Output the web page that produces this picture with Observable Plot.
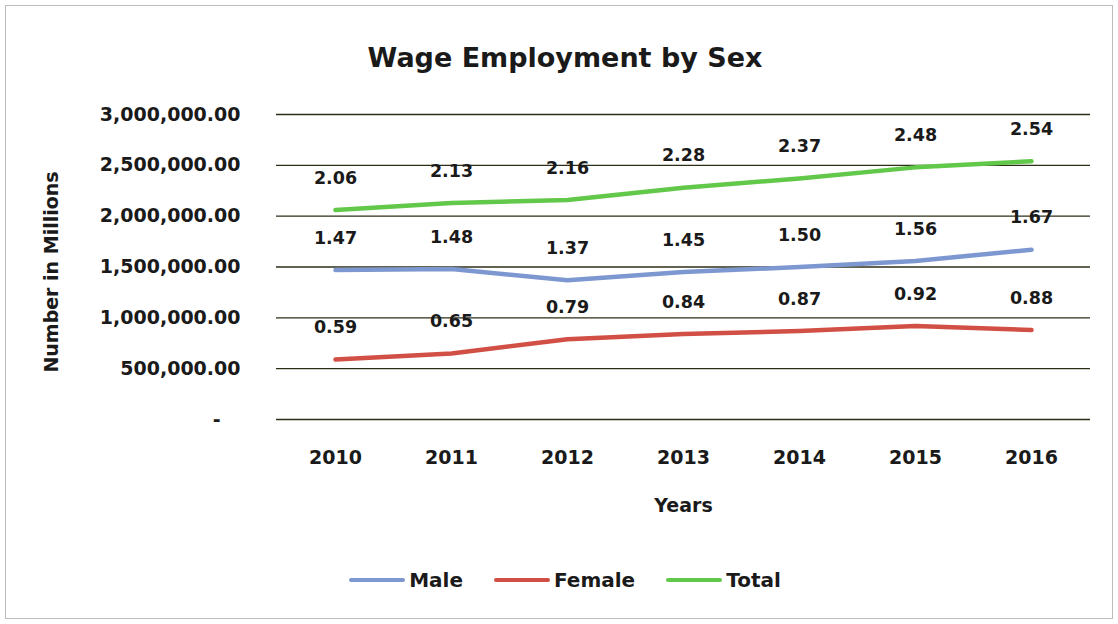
<!DOCTYPE html>
<html>
<head>
<meta charset="utf-8">
<script src="https://cdn.jsdelivr.net/npm/d3@7"></script>
<script src="https://cdn.jsdelivr.net/npm/@observablehq/plot@0.6"></script>
<style>
  html, body { margin: 0; padding: 0; background: #fff; }
  body { width: 1118px; height: 624px; position: relative; overflow: hidden; font-family: "DejaVu Sans", sans-serif; }
  #frame { position: absolute; left: 5px; top: 5px; width: 1108px; height: 614px; border: 1px solid #bdbdbd; box-sizing: border-box; }
  #title { position: absolute; left: 12px; width: 1106px; top: 42px; text-align: center; font-weight: bold; font-size: 27px; color: #1a1a1a; line-height: 31px; }
  #chart { position: absolute; left: 0; top: 95px; }
  #legend { position: absolute; top: 568px; left: 0; width: 1118px; display: flex; justify-content: center; gap: 31px; font-weight: bold; font-size: 20px; color: #1a1a1a; padding-left: 12px; box-sizing: border-box; line-height: 24px; }
  .item { display: flex; align-items: center; }
  .swatch { width: 56px; height: 4px; border-radius: 2px; margin-right: 4px; }
</style>
</head>
<body>
<div id="frame"></div>
<div id="title">Wage Employment by Sex</div>
<div id="chart"></div>
<div id="legend"></div>
<script>
const years = ["2010", "2011", "2012", "2013", "2014", "2015", "2016"];
const male = [1.47, 1.48, 1.37, 1.45, 1.50, 1.56, 1.67];
const female = [0.59, 0.65, 0.79, 0.84, 0.87, 0.92, 0.88];
const total = [2.06, 2.13, 2.16, 2.28, 2.37, 2.48, 2.54];
const seriesNames = ["Male", "Female", "Total"];
const seriesColors = ["#7d98d0", "#d24f45", "#62c84a"];
const yTicks = [0, 500000, 1000000, 1500000, 2000000, 2500000, 3000000];

const valuesBySeries = [male, female, total];
const rows = [];
seriesNames.forEach((s, si) => {
  years.forEach((yr, i) => rows.push({series: s, year: yr, value: valuesBySeries[si][i] * 1e6, label: valuesBySeries[si][i].toFixed(2)}));
});

const fmt = d3.format(",.2f");
const chart = Plot.plot({
  width: 1118,
  height: 440,
  marginLeft: 276,
  marginRight: 28,
  marginTop: 19,
  marginBottom: 116,
  style: {fontFamily: "'DejaVu Sans', sans-serif", background: "transparent", color: "#1a1a1a"},
  x: {type: "point", domain: years, padding: 0.5},
  y: {domain: [0, 3000000]},
  color: {domain: seriesNames, range: seriesColors},
  marks: [
    Plot.ruleY(yTicks, {stroke: "#2e2e18", strokeWidth: 1.3}),
    Plot.axisY({ticks: yTicks, tickSize: 0, tickPadding: 36, fontSize: 19, fontWeight: "bold",
      tickFormat: d => d === 0 ? "-\u00a0\u00a0\u00a0" : fmt(d), label: null}),
    Plot.axisX({tickSize: 0, tickPadding: 31, fontSize: 19, fontWeight: "bold", label: null}),
    Plot.text(["Years"], {frameAnchor: "bottom", dy: 92, fontSize: 19, fontWeight: "bold", text: d => d}),
    Plot.text(["Number in Millions"], {frameAnchor: "left", textAnchor: "middle", dx: -225, dy: 5, rotate: -90, fontSize: 19, fontWeight: "bold", text: d => d}),
    Plot.line(rows, {x: "year", y: "value", z: "series", stroke: "series", strokeWidth: 4.5, curve: "linear", strokeLinecap: "round"}),
    Plot.text(rows, {x: "year", y: "value", text: "label", dy: -32, fontSize: 17.5, fontWeight: "bold", fill: "#1a1a1a"})
  ]
});
document.getElementById("chart").appendChild(chart);

const legend = document.getElementById("legend");
seriesNames.forEach((s, i) => {
  const item = document.createElement("div");
  item.className = "item";
  const sw = document.createElement("div");
  sw.className = "swatch";
  sw.style.background = seriesColors[i];
  const t = document.createElement("span");
  t.textContent = s;
  item.appendChild(sw);
  item.appendChild(t);
  legend.appendChild(item);
});
</script>
</body>
</html>
